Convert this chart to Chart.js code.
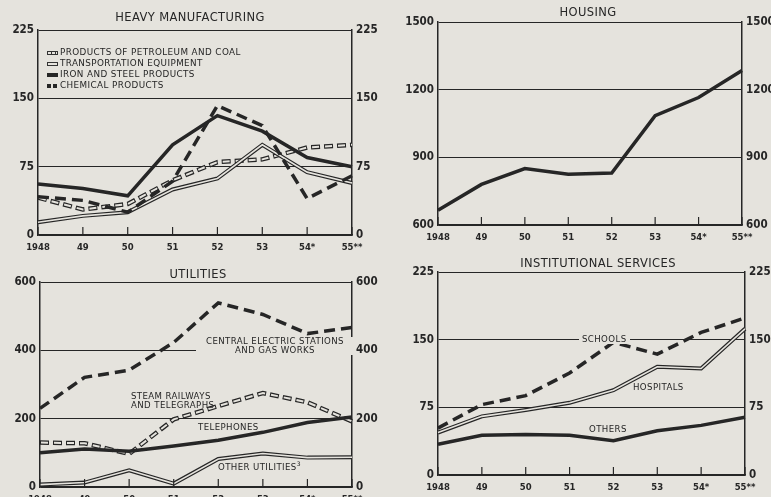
<!DOCTYPE html>
<html>
<head>
<meta charset="utf-8">
<script src="https://cdn.jsdelivr.net/npm/chart.js@4.4.1/dist/chart.umd.min.js"></script>
<style>
  html, body { margin: 0; padding: 0; }
  body {
    width: 771px; height: 497px; overflow: hidden; position: relative;
    background: #e5e3dd; font-family: "DejaVu Sans", sans-serif; color: #262626;
  }
  canvas { position: absolute; left: 0; top: 0; }
  .t { position: absolute; font-size: 11.5px; letter-spacing: 0.4px; white-space: nowrap;
       transform: translate(-50%, -50%); }
  .n { position: absolute; font-size: 8.6px; letter-spacing: 0.4px; white-space: nowrap;
       line-height: 9px; }
  .bg { background: #e5e3dd; padding: 0 3px; }
  .lg { position: absolute; left: 47px; top: 47px; font-size: 8.8px; line-height: 11px; letter-spacing: 0.4px; }
  .lg div { display: flex; align-items: center; }
  .sym { display: inline-block; width: 11px; height: 4px; margin-right: 2px; position: relative; }
</style>
</head>
<body>
<canvas id="c1" width="771" height="520"></canvas>
<canvas id="c2" width="771" height="520"></canvas>
<canvas id="c3" width="771" height="520"></canvas>
<canvas id="c4" width="771" height="520"></canvas>

<div class="t" style="left:190px;top:17px">HEAVY MANUFACTURING</div>
<div class="t" style="left:588px;top:12px">HOUSING</div>
<div class="t" style="left:198px;top:274px">UTILITIES</div>
<div class="t" style="left:598px;top:263px">INSTITUTIONAL SERVICES</div>

<div class="lg">
  <div><span class="sym" style="border:1px solid #333;height:2px;width:9px;background:repeating-linear-gradient(90deg,#e5e3dd 0 3px,#333 3px 4px)"></span>PRODUCTS OF PETROLEUM AND COAL</div>
  <div><span class="sym" style="border:1px solid #333;height:2px;width:9px;background:#e5e3dd"></span>TRANSPORTATION EQUIPMENT</div>
  <div><span class="sym" style="background:#262626"></span>IRON AND STEEL PRODUCTS</div>
  <div><span class="sym" style="background:repeating-linear-gradient(90deg,#262626 0 4px,transparent 4px 6px)"></span>CHEMICAL PRODUCTS</div>
</div>

<div class="n bg" style="left:196px;top:337px;text-align:center;width:152px">CENTRAL ELECTRIC STATIONS<br>AND GAS WORKS</div>
<div class="n" style="left:131px;top:392px">STEAM RAILWAYS<br>AND TELEGRAPHS</div>
<div class="n" style="left:198px;top:423px">TELEPHONES</div>
<div class="n" style="left:218px;top:459px">OTHER UTILITIES<sup style="font-size:6px">3</sup></div>
<div class="n bg" style="left:579px;top:335px">SCHOOLS</div>
<div class="n" style="left:633px;top:383px">HOSPITALS</div>
<div class="n" style="left:589px;top:425px">OTHERS</div>

<script>
// ---- data ----
const years = ["1948", "49", "50", "51", "52", "53", "54*", "55**"];

// heavy manufacturing
const petroleumCoal = [41, 28, 34, 60, 80, 83, 96, 99];
const transportEquip = [14, 21, 25, 50, 62, 99, 69, 57];
const ironSteel = [56, 51, 43, 99, 131, 114, 85, 75];
const chemical = [42, 38, 25, 59, 142, 120, 40, 65];

// housing
const housing = [665, 780, 850, 825, 830, 1085, 1165, 1285];

// utilities
const centralElectric = [230, 321, 342, 423, 539, 505, 449, 467];
const steamRailways = [130, 128, 97, 198, 237, 275, 248, 192];
const telephones = [100, 111, 105, 120, 137, 160, 189, 205];
const otherUtilities = [7, 13, 49, 10, 82, 98, 86, 87];

// institutional services
const schools = [52, 78, 88, 113, 147, 134, 158, 174];
const hospitals = [47, 65, 72, 80, 94, 120, 118, 162];
const others = [34, 44, 45, 44, 38, 49, 55, 64];

const ink = "#262626";
const paper = "#e5e3dd";

// ---- line styles ----
function solid(data) {
  return [{ data, borderColor: ink, borderWidth: 3.5 }];
}
function dashed(data) {
  return [{ data, borderColor: ink, borderWidth: 3.5, borderDash: [11, 6] }];
}
function double(data) {
  return [
    { data, borderColor: ink, borderWidth: 4 },
    { data, borderColor: paper, borderWidth: 1.6 }
  ];
}
function hollowDash(data) {
  return [
    { data, borderColor: ink, borderWidth: 4.5, borderDash: [9, 4] },
    { data, borderColor: paper, borderWidth: 2, borderDash: [7, 6], borderDashOffset: -1 }
  ];
}

// small upward ticks on the year axis
const innerTicks = {
  id: "innerTicks",
  afterDraw(chart) {
    const { ctx, scales: { x }, chartArea } = chart;
    ctx.save();
    ctx.strokeStyle = ink;
    ctx.lineWidth = 1.2;
    years.forEach((_, i) => {
      const px = x.getPixelForValue(i);
      ctx.beginPath();
      ctx.moveTo(px, chartArea.bottom);
      ctx.lineTo(px, chartArea.bottom - 8);
      ctx.stroke();
    });
    ctx.restore();
  }
};

const YW = 36, XH = 22;

function makeChart(id, rect, min, max, step, datasets, showX) {
  const yTicks = {
    stepSize: step,
    color: ink,
    padding: 4,
    font: { family: "'DejaVu Sans Condensed', 'DejaVu Sans'", size: 11.5, weight: "bold" },
    callback: v => String(v)
  };
  const n = datasets.length;
  return new Chart(document.getElementById(id), {
    type: "line",
    data: {
      labels: years,
      // later entries are drawn on top
      datasets: datasets.map((d, i) =>
        Object.assign({ pointRadius: 0, tension: 0, fill: false, order: n - i }, d))
    },
    options: {
      responsive: false,
      animation: false,
      layout: {
        padding: {
          left: rect.left - YW,
          right: 771 - rect.right - YW,
          top: rect.top,
          bottom: 520 - rect.bottom - XH
        }
      },
      plugins: { legend: { display: false }, tooltip: { enabled: false } },
      scales: {
        x: {
          offset: false,
          grid: { display: false, drawTicks: false },
          border: { color: ink, width: 1.5 },
          ticks: {
            display: showX, color: ink, padding: 8, maxRotation: 0, autoSkip: false,
            font: { family: "DejaVu Sans", size: 8.5, weight: "bold" }
          },
          afterFit(s) { s.height = XH; }
        },
        y: {
          position: "left", min, max,
          grid: { color: ink, lineWidth: 1, drawTicks: false },
          border: { color: ink, width: 1.5 },
          ticks: yTicks,
          afterFit(s) { s.width = YW; }
        },
        y2: {
          position: "right", min, max,
          grid: { drawOnChartArea: false, drawTicks: false },
          border: { color: ink, width: 1.5 },
          ticks: yTicks,
          afterFit(s) { s.width = YW; }
        }
      }
    },
    plugins: [innerTicks]
  });
}

makeChart("c1", { left: 38, right: 352, top: 30, bottom: 235 }, 0, 225, 75, [
  ...hollowDash(petroleumCoal),
  ...double(transportEquip),
  ...solid(ironSteel),
  ...dashed(chemical)
], true);

makeChart("c2", { left: 438, right: 742, top: 22, bottom: 225 }, 600, 1500, 300,
  solid(housing), true);

makeChart("c3", { left: 40, right: 352, top: 282, bottom: 487 }, 0, 600, 200, [
  ...dashed(centralElectric),
  ...hollowDash(steamRailways),
  ...solid(telephones),
  ...double(otherUtilities)
], true);

makeChart("c4", { left: 438, right: 745, top: 272, bottom: 475 }, 0, 225, 75, [
  ...dashed(schools),
  ...double(hospitals),
  ...solid(others)
], true);
</script>
</body>
</html>
